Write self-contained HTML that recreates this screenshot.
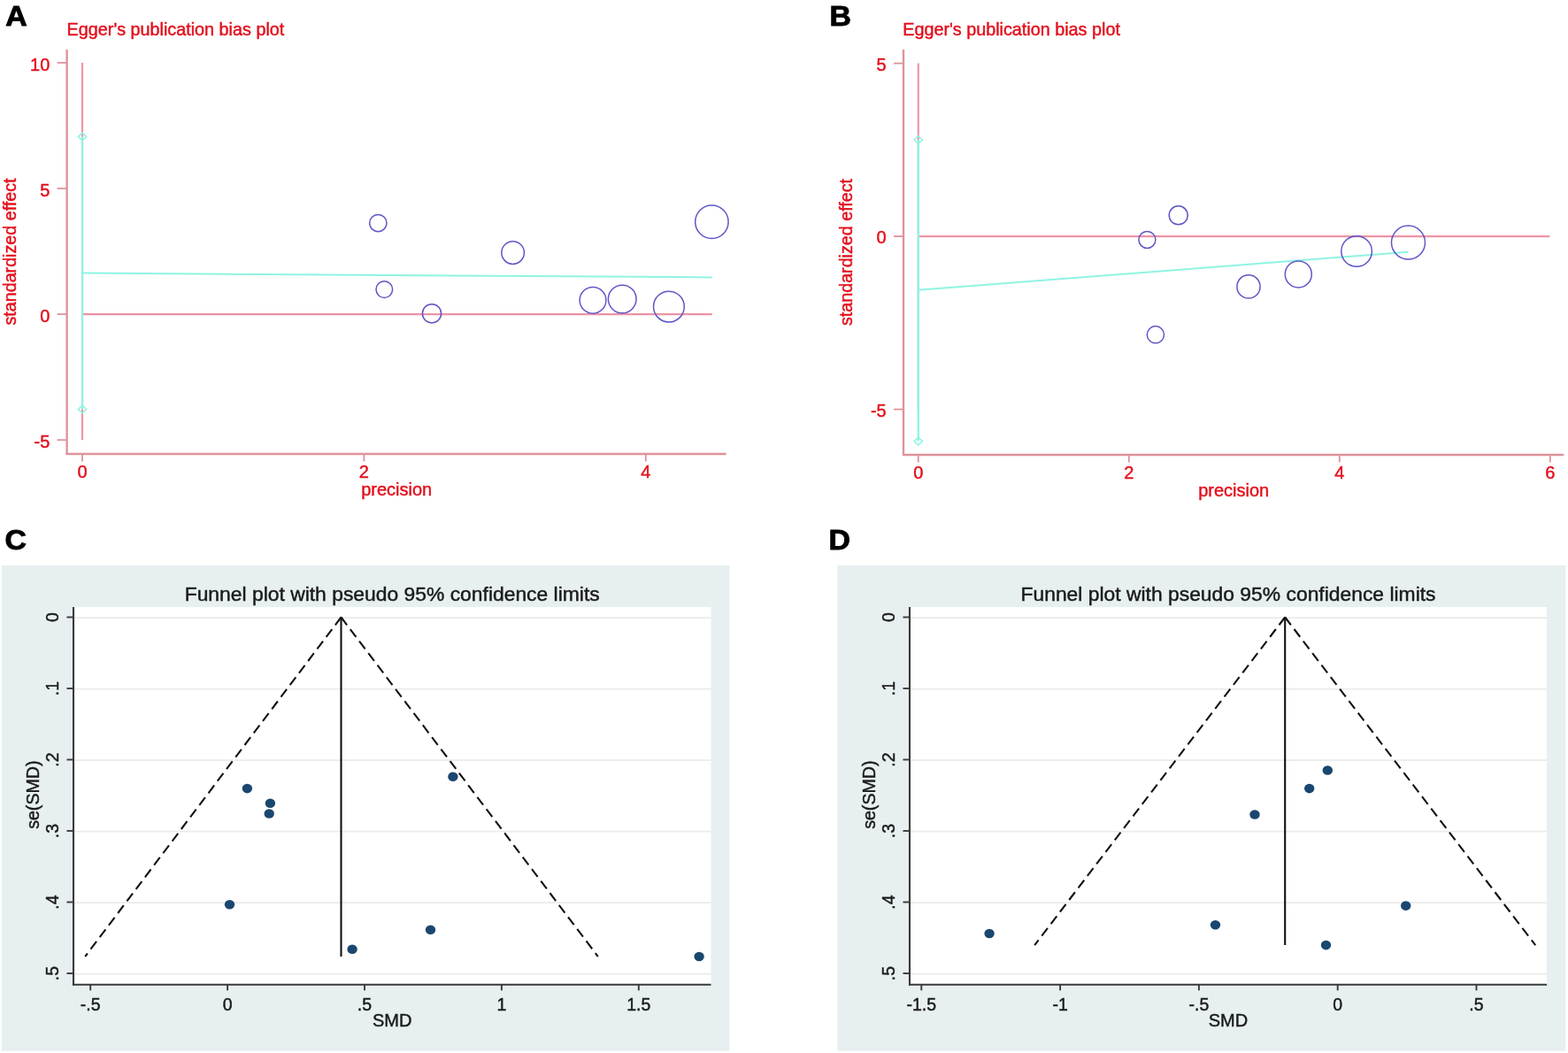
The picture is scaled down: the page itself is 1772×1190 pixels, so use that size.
<!DOCTYPE html>
<html><head><meta charset="utf-8"><title>Egger and funnel plots</title>
<style>html,body{margin:0;padding:0;background:#fff;}svg{display:block;}</style></head>
<body><svg width="1772" height="1190" viewBox="0 0 1772 1190">
<rect x="0" y="0" width="1772" height="1190" fill="#fff"/>
<text transform="translate(6.2,29.2) scale(1.07,1)" font-family="'Liberation Sans', Arial, sans-serif" font-weight="bold" font-size="31.6" fill="#000" stroke="#000" stroke-width="0.9">A</text>
<text x="75.6" y="39.8" font-family="'Liberation Sans', Arial, sans-serif" font-size="19.8" fill="#e3101c" stroke="#e3101c" stroke-width="0.45">Egger's publication bias plot</text>
<line x1="75.6" y1="56" x2="75.6" y2="513.0" stroke="#de939c" stroke-width="2.4"/>
<line x1="74.39999999999999" y1="513.0" x2="820.7" y2="513.0" stroke="#de939c" stroke-width="2.4"/>
<line x1="64.6" y1="70.9" x2="75.6" y2="70.9" stroke="#de939c" stroke-width="1.8"/>
<text x="56.3" y="79.9" font-family="'Liberation Sans', Arial, sans-serif" font-size="20" fill="#e3101c" stroke="#e3101c" stroke-width="0.45" text-anchor="end">10</text>
<line x1="64.6" y1="213.0" x2="75.6" y2="213.0" stroke="#de939c" stroke-width="1.8"/>
<text x="56.3" y="222.0" font-family="'Liberation Sans', Arial, sans-serif" font-size="20" fill="#e3101c" stroke="#e3101c" stroke-width="0.45" text-anchor="end">5</text>
<line x1="64.6" y1="355.1" x2="75.6" y2="355.1" stroke="#de939c" stroke-width="1.8"/>
<text x="56.3" y="364.1" font-family="'Liberation Sans', Arial, sans-serif" font-size="20" fill="#e3101c" stroke="#e3101c" stroke-width="0.45" text-anchor="end">0</text>
<line x1="64.6" y1="497.2" x2="75.6" y2="497.2" stroke="#de939c" stroke-width="1.8"/>
<text x="56.3" y="506.2" font-family="'Liberation Sans', Arial, sans-serif" font-size="20" fill="#e3101c" stroke="#e3101c" stroke-width="0.45" text-anchor="end">-5</text>
<line x1="93.0" y1="513.0" x2="93.0" y2="521.5" stroke="#de939c" stroke-width="1.8"/>
<text x="93.0" y="540.4" font-family="'Liberation Sans', Arial, sans-serif" font-size="20" fill="#e3101c" stroke="#e3101c" stroke-width="0.45" text-anchor="middle">0</text>
<line x1="411.4" y1="513.0" x2="411.4" y2="521.5" stroke="#de939c" stroke-width="1.8"/>
<text x="411.4" y="540.4" font-family="'Liberation Sans', Arial, sans-serif" font-size="20" fill="#e3101c" stroke="#e3101c" stroke-width="0.45" text-anchor="middle">2</text>
<line x1="729.8" y1="513.0" x2="729.8" y2="521.5" stroke="#de939c" stroke-width="1.8"/>
<text x="729.8" y="540.4" font-family="'Liberation Sans', Arial, sans-serif" font-size="20" fill="#e3101c" stroke="#e3101c" stroke-width="0.45" text-anchor="middle">4</text>
<text x="448.2" y="559.6" font-family="'Liberation Sans', Arial, sans-serif" font-size="20" fill="#e3101c" stroke="#e3101c" stroke-width="0.45" text-anchor="middle">precision</text>
<text transform="translate(18.0,284.5) rotate(-90)" font-family="'Liberation Sans', Arial, sans-serif" font-size="19.7" fill="#e3101c" stroke="#e3101c" stroke-width="0.45" text-anchor="middle">standardized effect</text>
<line x1="93.0" y1="70.9" x2="93.0" y2="497.2" stroke="#ec94a6" stroke-width="2.1"/>
<line x1="93.0" y1="355.1" x2="804.8" y2="355.1" stroke="#ec94a6" stroke-width="2.1"/>
<line x1="93.0" y1="154.4" x2="93.0" y2="462.5" stroke="#8ff3e2" stroke-width="2.3"/>
<path d="M93.0,150.1 L97.7,154.4 L93.0,158.7 L88.3,154.4 Z" fill="none" stroke="#8ff3e2" stroke-width="1.5"/>
<path d="M93.0,458.2 L97.7,462.5 L93.0,466.8 L88.3,462.5 Z" fill="none" stroke="#8ff3e2" stroke-width="1.5"/>
<line x1="93.0" y1="308.6" x2="804.8" y2="313.4" stroke="#8ff3e2" stroke-width="2.0"/>
<circle cx="427.3" cy="252.1" r="9.6" fill="none" stroke="#5e56c6" stroke-width="1.5"/>
<circle cx="434.3" cy="327.1" r="9.3" fill="none" stroke="#5e56c6" stroke-width="1.5"/>
<circle cx="488.0" cy="354.3" r="10.6" fill="none" stroke="#5e56c6" stroke-width="1.5"/>
<circle cx="579.6" cy="285.6" r="12.8" fill="none" stroke="#5e56c6" stroke-width="1.5"/>
<circle cx="670.0" cy="339.3" r="14.9" fill="none" stroke="#5e56c6" stroke-width="1.5"/>
<circle cx="703.2" cy="338.0" r="15.8" fill="none" stroke="#5e56c6" stroke-width="1.5"/>
<circle cx="755.9" cy="346.6" r="17.4" fill="none" stroke="#5e56c6" stroke-width="1.5"/>
<circle cx="804.4" cy="250.7" r="18.7" fill="none" stroke="#5e56c6" stroke-width="1.5"/>
<text transform="translate(937.6,29.2) scale(1.07,1)" font-family="'Liberation Sans', Arial, sans-serif" font-weight="bold" font-size="31.6" fill="#000" stroke="#000" stroke-width="0.9">B</text>
<text x="1020.2" y="39.8" font-family="'Liberation Sans', Arial, sans-serif" font-size="19.8" fill="#e3101c" stroke="#e3101c" stroke-width="0.45">Egger's publication bias plot</text>
<line x1="1021" y1="56" x2="1021" y2="514" stroke="#de939c" stroke-width="2.4"/>
<line x1="1019.8" y1="514" x2="1767.3" y2="514" stroke="#de939c" stroke-width="2.4"/>
<line x1="1010" y1="71.6" x2="1021" y2="71.6" stroke="#de939c" stroke-width="1.8"/>
<text x="1001.7" y="79.8" font-family="'Liberation Sans', Arial, sans-serif" font-size="20" fill="#e3101c" stroke="#e3101c" stroke-width="0.45" text-anchor="end">5</text>
<line x1="1010" y1="267.1" x2="1021" y2="267.1" stroke="#de939c" stroke-width="1.8"/>
<text x="1001.7" y="275.3" font-family="'Liberation Sans', Arial, sans-serif" font-size="20" fill="#e3101c" stroke="#e3101c" stroke-width="0.45" text-anchor="end">0</text>
<line x1="1010" y1="462.6" x2="1021" y2="462.6" stroke="#de939c" stroke-width="1.8"/>
<text x="1001.7" y="470.8" font-family="'Liberation Sans', Arial, sans-serif" font-size="20" fill="#e3101c" stroke="#e3101c" stroke-width="0.45" text-anchor="end">-5</text>
<line x1="1037.8" y1="514" x2="1037.8" y2="522.5" stroke="#de939c" stroke-width="1.8"/>
<text x="1037.8" y="541.4" font-family="'Liberation Sans', Arial, sans-serif" font-size="20" fill="#e3101c" stroke="#e3101c" stroke-width="0.45" text-anchor="middle">0</text>
<line x1="1275.8" y1="514" x2="1275.8" y2="522.5" stroke="#de939c" stroke-width="1.8"/>
<text x="1275.8" y="541.4" font-family="'Liberation Sans', Arial, sans-serif" font-size="20" fill="#e3101c" stroke="#e3101c" stroke-width="0.45" text-anchor="middle">2</text>
<line x1="1513.8" y1="514" x2="1513.8" y2="522.5" stroke="#de939c" stroke-width="1.8"/>
<text x="1513.8" y="541.4" font-family="'Liberation Sans', Arial, sans-serif" font-size="20" fill="#e3101c" stroke="#e3101c" stroke-width="0.45" text-anchor="middle">4</text>
<line x1="1751.8" y1="514" x2="1751.8" y2="522.5" stroke="#de939c" stroke-width="1.8"/>
<text x="1751.8" y="541.4" font-family="'Liberation Sans', Arial, sans-serif" font-size="20" fill="#e3101c" stroke="#e3101c" stroke-width="0.45" text-anchor="middle">6</text>
<text x="1394.2" y="560.6" font-family="'Liberation Sans', Arial, sans-serif" font-size="20" fill="#e3101c" stroke="#e3101c" stroke-width="0.45" text-anchor="middle">precision</text>
<text transform="translate(963.0,285.0) rotate(-90)" font-family="'Liberation Sans', Arial, sans-serif" font-size="19.7" fill="#e3101c" stroke="#e3101c" stroke-width="0.45" text-anchor="middle">standardized effect</text>
<line x1="1037.8" y1="71.6" x2="1037.8" y2="462.6" stroke="#ec94a6" stroke-width="2.1"/>
<line x1="1037.8" y1="267.1" x2="1751.3" y2="267.1" stroke="#ec94a6" stroke-width="2.1"/>
<line x1="1037.8" y1="158.0" x2="1037.8" y2="498.6" stroke="#8ff3e2" stroke-width="2.3"/>
<path d="M1037.8,153.7 L1042.5,158.0 L1037.8,162.3 L1033.1,158.0 Z" fill="none" stroke="#8ff3e2" stroke-width="1.5"/>
<path d="M1037.8,494.3 L1042.5,498.6 L1037.8,502.9 L1033.1,498.6 Z" fill="none" stroke="#8ff3e2" stroke-width="1.5"/>
<line x1="1037.8" y1="327.8" x2="1591.6" y2="284.7" stroke="#8ff3e2" stroke-width="2.0"/>
<circle cx="1296.4" cy="270.9" r="9.5" fill="none" stroke="#5e56c6" stroke-width="1.5"/>
<circle cx="1331.7" cy="243.3" r="10.5" fill="none" stroke="#5e56c6" stroke-width="1.5"/>
<circle cx="1305.9" cy="378.2" r="9.6" fill="none" stroke="#5e56c6" stroke-width="1.5"/>
<circle cx="1411.0" cy="323.9" r="13.1" fill="none" stroke="#5e56c6" stroke-width="1.5"/>
<circle cx="1467.3" cy="309.9" r="15.0" fill="none" stroke="#5e56c6" stroke-width="1.5"/>
<circle cx="1533.1" cy="284.0" r="17.3" fill="none" stroke="#5e56c6" stroke-width="1.5"/>
<circle cx="1591.5" cy="274.1" r="19.0" fill="none" stroke="#5e56c6" stroke-width="1.5"/>
<text transform="translate(5.4,620.6) scale(1.07,1)" font-family="'Liberation Sans', Arial, sans-serif" font-weight="bold" font-size="31.6" fill="#000" stroke="#000" stroke-width="0.9">C</text>
<rect x="2" y="639" width="822.5" height="548.5999999999999" fill="#e7eff0"/>
<rect x="83" y="686" width="720.5" height="426.79999999999995" fill="#fff"/>
<text x="443.2" y="678.8" font-family="'Liberation Sans', Arial, sans-serif" font-size="22.6" fill="#1a1a1a" stroke="#1a1a1a" stroke-width="0.45" text-anchor="middle" textLength="469" lengthAdjust="spacingAndGlyphs">Funnel plot with pseudo 95% confidence limits</text>
<line x1="83" y1="698.1" x2="803.5" y2="698.1" stroke="#ebebeb" stroke-width="1.7"/>
<line x1="83" y1="778.6" x2="803.5" y2="778.6" stroke="#ebebeb" stroke-width="1.7"/>
<line x1="83" y1="859.1" x2="803.5" y2="859.1" stroke="#ebebeb" stroke-width="1.7"/>
<line x1="83" y1="939.6" x2="803.5" y2="939.6" stroke="#ebebeb" stroke-width="1.7"/>
<line x1="83" y1="1020.1" x2="803.5" y2="1020.1" stroke="#ebebeb" stroke-width="1.7"/>
<line x1="83" y1="1100.6" x2="803.5" y2="1100.6" stroke="#ebebeb" stroke-width="1.7"/>
<line x1="83" y1="686" x2="83" y2="1113.8" stroke="#3a3a3a" stroke-width="2.1"/>
<line x1="82" y1="1112.8" x2="803.5" y2="1112.8" stroke="#3a3a3a" stroke-width="2.1"/>
<line x1="75.5" y1="697.5" x2="83" y2="697.5" stroke="#3a3a3a" stroke-width="1.9"/>
<text transform="translate(66.3,697.5) rotate(-90)" font-family="'Liberation Sans', Arial, sans-serif" font-size="19.5" fill="#1a1a1a" stroke="#1a1a1a" stroke-width="0.45" text-anchor="middle">0</text>
<line x1="75.5" y1="778.0" x2="83" y2="778.0" stroke="#3a3a3a" stroke-width="1.9"/>
<text transform="translate(66.3,778.0) rotate(-90)" font-family="'Liberation Sans', Arial, sans-serif" font-size="19.5" fill="#1a1a1a" stroke="#1a1a1a" stroke-width="0.45" text-anchor="middle">.1</text>
<line x1="75.5" y1="858.5" x2="83" y2="858.5" stroke="#3a3a3a" stroke-width="1.9"/>
<text transform="translate(66.3,858.5) rotate(-90)" font-family="'Liberation Sans', Arial, sans-serif" font-size="19.5" fill="#1a1a1a" stroke="#1a1a1a" stroke-width="0.45" text-anchor="middle">.2</text>
<line x1="75.5" y1="939.0" x2="83" y2="939.0" stroke="#3a3a3a" stroke-width="1.9"/>
<text transform="translate(66.3,939.0) rotate(-90)" font-family="'Liberation Sans', Arial, sans-serif" font-size="19.5" fill="#1a1a1a" stroke="#1a1a1a" stroke-width="0.45" text-anchor="middle">.3</text>
<line x1="75.5" y1="1019.5" x2="83" y2="1019.5" stroke="#3a3a3a" stroke-width="1.9"/>
<text transform="translate(66.3,1019.5) rotate(-90)" font-family="'Liberation Sans', Arial, sans-serif" font-size="19.5" fill="#1a1a1a" stroke="#1a1a1a" stroke-width="0.45" text-anchor="middle">.4</text>
<line x1="75.5" y1="1100.0" x2="83" y2="1100.0" stroke="#3a3a3a" stroke-width="1.9"/>
<text transform="translate(66.3,1100.0) rotate(-90)" font-family="'Liberation Sans', Arial, sans-serif" font-size="19.5" fill="#1a1a1a" stroke="#1a1a1a" stroke-width="0.45" text-anchor="middle">.5</text>
<line x1="102.2" y1="1112.8" x2="102.2" y2="1119.3" stroke="#3a3a3a" stroke-width="1.9"/>
<text x="102.2" y="1141.7" font-family="'Liberation Sans', Arial, sans-serif" font-size="19.5" fill="#1a1a1a" stroke="#1a1a1a" stroke-width="0.45" text-anchor="middle">-.5</text>
<line x1="257.1" y1="1112.8" x2="257.1" y2="1119.3" stroke="#3a3a3a" stroke-width="1.9"/>
<text x="257.1" y="1141.7" font-family="'Liberation Sans', Arial, sans-serif" font-size="19.5" fill="#1a1a1a" stroke="#1a1a1a" stroke-width="0.45" text-anchor="middle">0</text>
<line x1="412.0" y1="1112.8" x2="412.0" y2="1119.3" stroke="#3a3a3a" stroke-width="1.9"/>
<text x="412.0" y="1141.7" font-family="'Liberation Sans', Arial, sans-serif" font-size="19.5" fill="#1a1a1a" stroke="#1a1a1a" stroke-width="0.45" text-anchor="middle">.5</text>
<line x1="566.9" y1="1112.8" x2="566.9" y2="1119.3" stroke="#3a3a3a" stroke-width="1.9"/>
<text x="566.9" y="1141.7" font-family="'Liberation Sans', Arial, sans-serif" font-size="19.5" fill="#1a1a1a" stroke="#1a1a1a" stroke-width="0.45" text-anchor="middle">1</text>
<line x1="721.8" y1="1112.8" x2="721.8" y2="1119.3" stroke="#3a3a3a" stroke-width="1.9"/>
<text x="721.8" y="1141.7" font-family="'Liberation Sans', Arial, sans-serif" font-size="19.5" fill="#1a1a1a" stroke="#1a1a1a" stroke-width="0.45" text-anchor="middle">1.5</text>
<text x="443.2" y="1160.3" font-family="'Liberation Sans', Arial, sans-serif" font-size="20" fill="#1a1a1a" stroke="#1a1a1a" stroke-width="0.45" text-anchor="middle">SMD</text>
<text transform="translate(44.2,898.2) rotate(-90)" font-family="'Liberation Sans', Arial, sans-serif" font-size="19.6" fill="#1a1a1a" stroke="#1a1a1a" stroke-width="0.45" text-anchor="middle">se(SMD)</text>
<line x1="385.5" y1="697.5" x2="96.2" y2="1081" stroke="#111" stroke-width="2.1" stroke-dasharray="11 6"/>
<line x1="385.5" y1="697.5" x2="675.8" y2="1081" stroke="#111" stroke-width="2.1" stroke-dasharray="11 6"/>
<line x1="385.5" y1="697.5" x2="385.5" y2="1081" stroke="#111" stroke-width="2.1"/>
<ellipse cx="279.4" cy="891.1" rx="5.7" ry="5.3" fill="#1a476f"/>
<ellipse cx="305.4" cy="907.7" rx="5.7" ry="5.3" fill="#1a476f"/>
<ellipse cx="304.2" cy="919.5" rx="5.7" ry="5.3" fill="#1a476f"/>
<ellipse cx="259.5" cy="1022.3" rx="5.7" ry="5.3" fill="#1a476f"/>
<ellipse cx="398.1" cy="1072.8" rx="5.7" ry="5.3" fill="#1a476f"/>
<ellipse cx="511.9" cy="877.8" rx="5.7" ry="5.3" fill="#1a476f"/>
<ellipse cx="486.5" cy="1050.8" rx="5.7" ry="5.3" fill="#1a476f"/>
<ellipse cx="790.1" cy="1081" rx="5.7" ry="5.3" fill="#1a476f"/>
<text transform="translate(936.6,620.6) scale(1.07,1)" font-family="'Liberation Sans', Arial, sans-serif" font-weight="bold" font-size="31.6" fill="#000" stroke="#000" stroke-width="0.9">D</text>
<rect x="946.5" y="639" width="822.9000000000001" height="548.5999999999999" fill="#e7eff0"/>
<rect x="1028" y="686" width="720.0999999999999" height="426.79999999999995" fill="#fff"/>
<text x="1388.0" y="678.8" font-family="'Liberation Sans', Arial, sans-serif" font-size="22.6" fill="#1a1a1a" stroke="#1a1a1a" stroke-width="0.45" text-anchor="middle" textLength="469" lengthAdjust="spacingAndGlyphs">Funnel plot with pseudo 95% confidence limits</text>
<line x1="1028" y1="698.1" x2="1748.1" y2="698.1" stroke="#ebebeb" stroke-width="1.7"/>
<line x1="1028" y1="778.6" x2="1748.1" y2="778.6" stroke="#ebebeb" stroke-width="1.7"/>
<line x1="1028" y1="859.1" x2="1748.1" y2="859.1" stroke="#ebebeb" stroke-width="1.7"/>
<line x1="1028" y1="939.6" x2="1748.1" y2="939.6" stroke="#ebebeb" stroke-width="1.7"/>
<line x1="1028" y1="1020.1" x2="1748.1" y2="1020.1" stroke="#ebebeb" stroke-width="1.7"/>
<line x1="1028" y1="1100.6" x2="1748.1" y2="1100.6" stroke="#ebebeb" stroke-width="1.7"/>
<line x1="1028" y1="686" x2="1028" y2="1113.8" stroke="#3a3a3a" stroke-width="2.1"/>
<line x1="1027" y1="1112.8" x2="1748.1" y2="1112.8" stroke="#3a3a3a" stroke-width="2.1"/>
<line x1="1020.5" y1="697.5" x2="1028" y2="697.5" stroke="#3a3a3a" stroke-width="1.9"/>
<text transform="translate(1011.3,697.5) rotate(-90)" font-family="'Liberation Sans', Arial, sans-serif" font-size="19.5" fill="#1a1a1a" stroke="#1a1a1a" stroke-width="0.45" text-anchor="middle">0</text>
<line x1="1020.5" y1="778.0" x2="1028" y2="778.0" stroke="#3a3a3a" stroke-width="1.9"/>
<text transform="translate(1011.3,778.0) rotate(-90)" font-family="'Liberation Sans', Arial, sans-serif" font-size="19.5" fill="#1a1a1a" stroke="#1a1a1a" stroke-width="0.45" text-anchor="middle">.1</text>
<line x1="1020.5" y1="858.5" x2="1028" y2="858.5" stroke="#3a3a3a" stroke-width="1.9"/>
<text transform="translate(1011.3,858.5) rotate(-90)" font-family="'Liberation Sans', Arial, sans-serif" font-size="19.5" fill="#1a1a1a" stroke="#1a1a1a" stroke-width="0.45" text-anchor="middle">.2</text>
<line x1="1020.5" y1="939.0" x2="1028" y2="939.0" stroke="#3a3a3a" stroke-width="1.9"/>
<text transform="translate(1011.3,939.0) rotate(-90)" font-family="'Liberation Sans', Arial, sans-serif" font-size="19.5" fill="#1a1a1a" stroke="#1a1a1a" stroke-width="0.45" text-anchor="middle">.3</text>
<line x1="1020.5" y1="1019.5" x2="1028" y2="1019.5" stroke="#3a3a3a" stroke-width="1.9"/>
<text transform="translate(1011.3,1019.5) rotate(-90)" font-family="'Liberation Sans', Arial, sans-serif" font-size="19.5" fill="#1a1a1a" stroke="#1a1a1a" stroke-width="0.45" text-anchor="middle">.4</text>
<line x1="1020.5" y1="1100.0" x2="1028" y2="1100.0" stroke="#3a3a3a" stroke-width="1.9"/>
<text transform="translate(1011.3,1100.0) rotate(-90)" font-family="'Liberation Sans', Arial, sans-serif" font-size="19.5" fill="#1a1a1a" stroke="#1a1a1a" stroke-width="0.45" text-anchor="middle">.5</text>
<line x1="1041.3" y1="1112.8" x2="1041.3" y2="1119.3" stroke="#3a3a3a" stroke-width="1.9"/>
<text x="1041.3" y="1141.7" font-family="'Liberation Sans', Arial, sans-serif" font-size="19.5" fill="#1a1a1a" stroke="#1a1a1a" stroke-width="0.45" text-anchor="middle">-1.5</text>
<line x1="1198.1" y1="1112.8" x2="1198.1" y2="1119.3" stroke="#3a3a3a" stroke-width="1.9"/>
<text x="1198.1" y="1141.7" font-family="'Liberation Sans', Arial, sans-serif" font-size="19.5" fill="#1a1a1a" stroke="#1a1a1a" stroke-width="0.45" text-anchor="middle">-1</text>
<line x1="1354.9" y1="1112.8" x2="1354.9" y2="1119.3" stroke="#3a3a3a" stroke-width="1.9"/>
<text x="1354.9" y="1141.7" font-family="'Liberation Sans', Arial, sans-serif" font-size="19.5" fill="#1a1a1a" stroke="#1a1a1a" stroke-width="0.45" text-anchor="middle">-.5</text>
<line x1="1511.7" y1="1112.8" x2="1511.7" y2="1119.3" stroke="#3a3a3a" stroke-width="1.9"/>
<text x="1511.7" y="1141.7" font-family="'Liberation Sans', Arial, sans-serif" font-size="19.5" fill="#1a1a1a" stroke="#1a1a1a" stroke-width="0.45" text-anchor="middle">0</text>
<line x1="1668.5" y1="1112.8" x2="1668.5" y2="1119.3" stroke="#3a3a3a" stroke-width="1.9"/>
<text x="1668.5" y="1141.7" font-family="'Liberation Sans', Arial, sans-serif" font-size="19.5" fill="#1a1a1a" stroke="#1a1a1a" stroke-width="0.45" text-anchor="middle">.5</text>
<text x="1388.0" y="1160.3" font-family="'Liberation Sans', Arial, sans-serif" font-size="20" fill="#1a1a1a" stroke="#1a1a1a" stroke-width="0.45" text-anchor="middle">SMD</text>
<text transform="translate(989.2,898.2) rotate(-90)" font-family="'Liberation Sans', Arial, sans-serif" font-size="19.6" fill="#1a1a1a" stroke="#1a1a1a" stroke-width="0.45" text-anchor="middle">se(SMD)</text>
<line x1="1452.2" y1="697.5" x2="1169.2" y2="1068.1" stroke="#111" stroke-width="2.1" stroke-dasharray="11 6"/>
<line x1="1452.2" y1="697.5" x2="1735.2" y2="1068.1" stroke="#111" stroke-width="2.1" stroke-dasharray="11 6"/>
<line x1="1452.2" y1="697.5" x2="1452.2" y2="1068.1" stroke="#111" stroke-width="2.1"/>
<ellipse cx="1118.1" cy="1055" rx="5.7" ry="5.3" fill="#1a476f"/>
<ellipse cx="1373.5" cy="1045.2" rx="5.7" ry="5.3" fill="#1a476f"/>
<ellipse cx="1418" cy="920.5" rx="5.7" ry="5.3" fill="#1a476f"/>
<ellipse cx="1479.7" cy="891.1" rx="5.7" ry="5.3" fill="#1a476f"/>
<ellipse cx="1500.3" cy="870.5" rx="5.7" ry="5.3" fill="#1a476f"/>
<ellipse cx="1498.5" cy="1068.1" rx="5.7" ry="5.3" fill="#1a476f"/>
<ellipse cx="1588.7" cy="1023.6" rx="5.7" ry="5.3" fill="#1a476f"/>
</svg></body></html>
